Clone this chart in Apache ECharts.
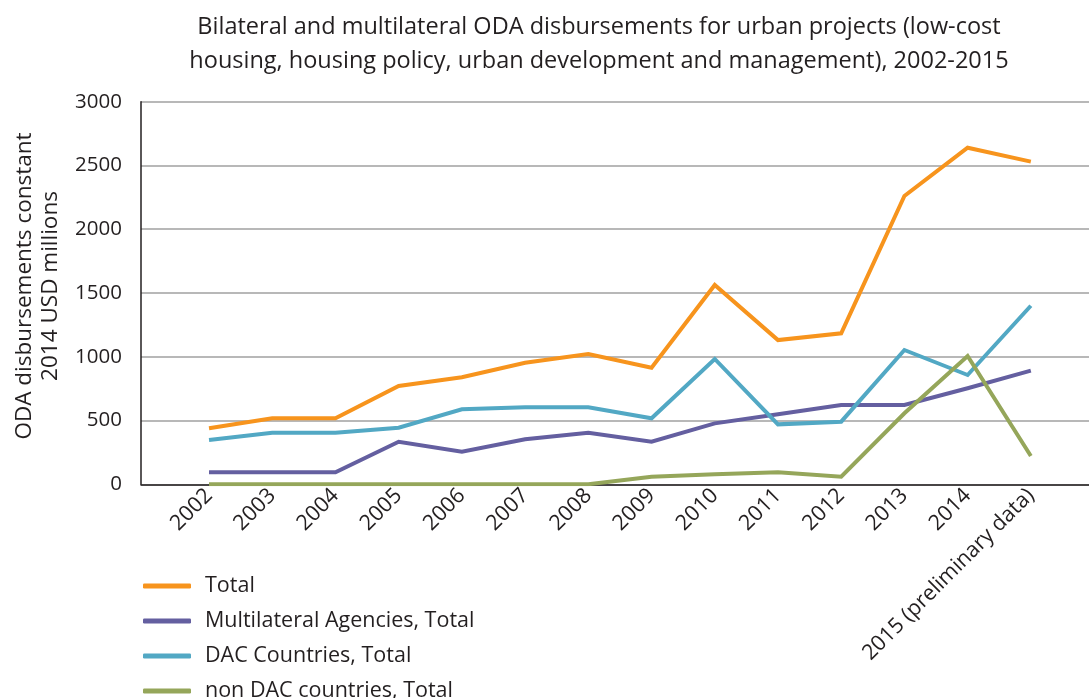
<!DOCTYPE html>
<html>
<head>
<meta charset="utf-8">
<script src="https://cdn.jsdelivr.net/npm/echarts@6/dist/echarts.min.js"></script>
<style>html,body{margin:0;padding:0;background:#fff}#c{width:1089px;height:698px}</style>
</head>
<body>
<div id="c"></div>
<script>
const years = [2002,2003,2004,2005,2006,2007,2008,2009,2010,2011,2012,2013,2014,2015];
const yearLabels = ['2002','2003','2004','2005','2006','2007','2008','2009','2010','2011','2012','2013','2014','2015 (preliminary data)'];
const total = [439,518,518,771,839,953,1022,914,1563,1131,1184,2261,2639,2530];
const multilateral = [94,94,94,334,256,353,405,334,478,549,622,622,753,891];
const dac = [347,405,405,444,588,604,604,518,983,470,491,1053,857,1400];
const nonDac = [0,0,0,0,0,0,0,60,78,94,60,557,1006,222];
const seriesNames = ['Total','Multilateral Agencies, Total','DAC Countries, Total','non DAC countries, Total'];
const yTicks = [0,500,1000,1500,2000,2500,3000];

const FONT = '"Open Sans"';
const TXT = '#231F20';
const colors = ['#F7941D','#645FA0','#52A8C4','#95A65A'];
const allData = [total, multilateral, dac, nonDac];

const chart = echarts.init(document.getElementById('c'), null, {renderer:'canvas'});
const labelMap = {};
years.forEach((y,i)=>labelMap[y]=yearLabels[i]);

chart.setOption({
  animation:false,
  backgroundColor:'#fff',
  textStyle:{fontFamily:FONT,color:TXT},
  title:{
    text:'Bilateral and multilateral ODA disbursements for urban projects (low-cost\nhousing, housing policy, urban development and management), 2002-2015',
    left:594, top:5, textAlign:'center',
    textStyle:{fontFamily:FONT,fontSize:23.5,fontWeight:'normal',color:TXT,lineHeight:34}
  },
  grid:{left:141,right:0,top:101.7,bottom:213.7,containLabel:false},
  legend:{
    orient:'vertical', left:138, top:569, height:140,
    icon:'roundRect', itemWidth:48, itemHeight:5, itemGap:11,
    textStyle:{fontFamily:FONT,fontSize:21.5,color:TXT,lineHeight:24,padding:[0,0,0,9]},
    data:seriesNames
  },
  xAxis:{
    type:'value', min:2000.924, max:2015.92,
    axisLine:{show:true,onZero:false,lineStyle:{color:'#231F20',width:1.5}},
    axisTick:{show:false},
    splitLine:{show:false},
    axisLabel:{
      customValues:years, rotate:45, fontSize:21.5, fontFamily:FONT, color:TXT, margin:8,
      formatter:v=>labelMap[Math.round(v)]||''
    }
  },
  yAxis:{
    type:'value', min:0, max:3000, interval:500,
    name:'ODA disbursements constant\n2014 USD millions',
    nameLocation:'middle', nameGap:77, nameRotate:90,
    nameTextStyle:{fontFamily:FONT,fontSize:22.5,color:TXT,lineHeight:26,padding:[0,0,0,14]},
    axisLine:{show:true,lineStyle:{color:'#231F20',width:1.5}},
    axisTick:{show:false},
    splitLine:{show:true,lineStyle:{color:'#A0A0A0',width:1.5}},
    axisLabel:{fontSize:20.5,fontFamily:FONT,color:TXT,margin:19,
      customValues:yTicks, formatter:v=>String(v)}
  },
  series:allData.map((arr,k)=>({
    name:seriesNames[k], type:'line', showSymbol:false, symbol:'none',
    color:colors[k],
    lineStyle:{width:4,color:colors[k],join:'miter'},
    data:years.map((y,i)=>[y,arr[i]]),
    z:2+k
  }))
});
</script>
</body>
</html>
